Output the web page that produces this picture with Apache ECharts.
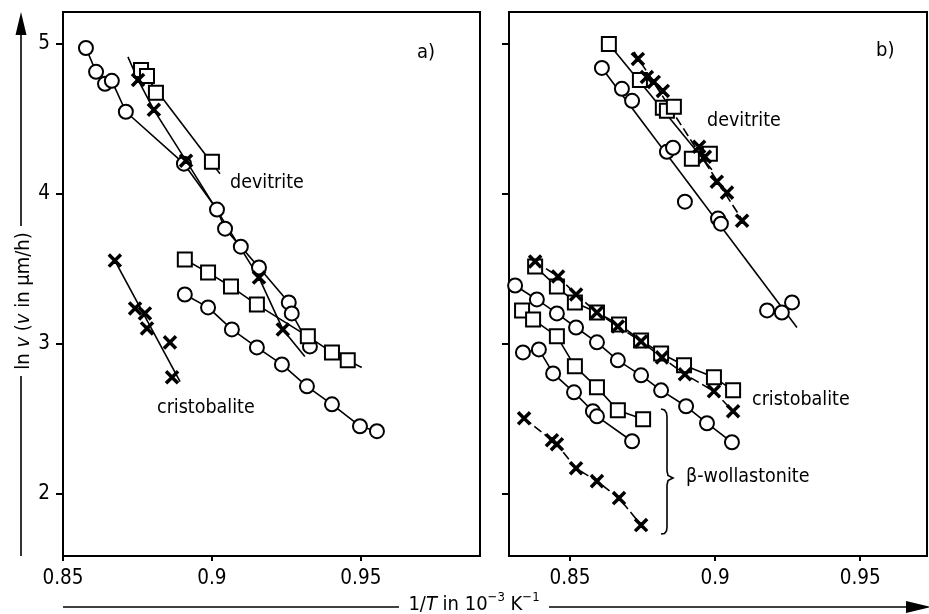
<!DOCTYPE html>
<html>
<head>
<meta charset="utf-8">
<script src="https://cdn.jsdelivr.net/npm/echarts@6/dist/echarts.min.js"></script>
<style>
  html, body { margin: 0; padding: 0; background: #fff; }
  #chart { width: 929px; height: 614px; }
</style>
</head>
<body>
<div id="chart"></div>
<script>
// Growth rate ln v against reciprocal temperature 1/T (10^-3 K^-1)

// ---------- panel a) ----------
const aDevitriteCircles = [[0.8577,4.973],[0.8611,4.814],[0.8641,4.734],[0.8664,4.754],[0.8711,4.548],[0.8906,4.202],[0.9017,3.896],[0.9044,3.769],[0.9097,3.649],[0.9158,3.510],[0.9258,3.277],[0.9268,3.204],[0.9329,2.984]];
const aDevitriteCrosses = [[0.8752,4.760],[0.8805,4.561],[0.8913,4.222],[0.9158,3.443],[0.9238,3.097]];
const aDevitriteCrossesLine = [[0.8718,4.914],[0.8752,4.760],[0.8805,4.561],[0.8913,4.222],[0.9158,3.443],[0.9238,3.097],[0.9312,2.917]];
const aDevitriteSquares = [[0.8762,4.827],[0.8782,4.787],[0.8812,4.674],[0.9000,4.215]];
const aDevitriteSquaresLine = [[0.8762,4.827],[0.9027,4.135]];
const aLowerSquares = [[0.8909,3.563],[0.8987,3.476],[0.9064,3.383],[0.9151,3.263],[0.9322,3.051],[0.9403,2.944],[0.9456,2.891]];
const aLowerSquaresLine = [[0.8909,3.563],[0.8987,3.476],[0.9064,3.383],[0.9151,3.263],[0.9322,3.051],[0.9403,2.944],[0.9456,2.891],[0.9503,2.844]];
const aLowerCircles = [[0.8909,3.330],[0.8987,3.244],[0.9067,3.097],[0.9151,2.977],[0.9235,2.864],[0.9319,2.718],[0.9403,2.598],[0.9497,2.452],[0.9554,2.419]];
const aCristobaliteCrosses = [[0.8674,3.556],[0.8742,3.237],[0.8775,3.204],[0.8782,3.104],[0.8859,3.011],[0.8866,2.778]];
const aCristobaliteLine = [[0.8674,3.556],[0.8893,2.750]];

// ---------- panel b) ----------
const bDevitriteCircles = [[0.8610,4.840],[0.8679,4.701],[0.8714,4.621],[0.8834,4.281],[0.8855,4.308],[0.8896,3.949],[0.9010,3.836],[0.9020,3.802],[0.9179,3.224],[0.9230,3.210],[0.9265,3.277]];
const bDevitriteCirclesLine = [[0.8610,4.840],[0.9282,3.110]];
const bDevitriteSquares = [[0.8634,5.000],[0.8741,4.760],[0.8820,4.574],[0.8834,4.554],[0.8858,4.581],[0.8920,4.235],[0.8982,4.268]];
const bDevitriteSquaresLine = [[0.8634,5.000],[0.8989,4.162]];
const bDevitriteCrosses = [[0.8734,4.900],[0.8765,4.780],[0.8789,4.747],[0.8820,4.687],[0.8945,4.315],[0.8965,4.248],[0.9006,4.082],[0.9041,4.009],[0.9093,3.822]];
const bDevitriteCrossesLine = [[0.8721,4.947],[0.9106,3.789]];
const bCristobaliteSquares = [[0.8380,3.516],[0.8455,3.383],[0.8517,3.277],[0.8593,3.210],[0.8669,3.130],[0.8745,3.024],[0.8814,2.937],[0.8893,2.858],[0.8996,2.778],[0.9062,2.691]];
const bCristobaliteCrosses = [[0.8380,3.550],[0.8459,3.450],[0.8521,3.330],[0.8593,3.210],[0.8665,3.117],[0.8745,3.017],[0.8817,2.911],[0.8896,2.798],[0.8996,2.685],[0.9062,2.552]];
const bCristobaliteCircles = [[0.8311,3.390],[0.8386,3.297],[0.8455,3.204],[0.8521,3.110],[0.8593,3.011],[0.8665,2.891],[0.8745,2.791],[0.8814,2.691],[0.8900,2.585],[0.8972,2.472],[0.9058,2.345]];
const bWollastoniteSquares = [[0.8335,3.224],[0.8373,3.164],[0.8455,3.051],[0.8517,2.851],[0.8593,2.711],[0.8665,2.558],[0.8752,2.498]];
const bWollastoniteCircles = [[0.8338,2.944],[0.8393,2.964],[0.8442,2.804],[0.8514,2.678],[0.8579,2.552],[0.8593,2.518],[0.8714,2.352]];
const bWollastoniteCrosses = [[0.8342,2.505],[0.8438,2.359],[0.8455,2.332],[0.8521,2.172],[0.8593,2.086],[0.8669,1.973],[0.8745,1.793]];

// axis settings
const xTicks = [0.85, 0.9, 0.95];
const yTicks = [2, 3, 4, 5];
const yRange = [1.587, 5.213];
const xRangeA = [0.85, 0.99];
const xRangeB = [0.829, 0.973];

const FONT = "'DejaVu Sans Condensed','Liberation Sans Narrow','DejaVu Sans',sans-serif";
const CROSS = 'path://M0,1L1,0L5,4L9,0L10,1L6,5L10,9L9,10L5,6L1,10L0,9L4,5Z';
const MARK = {
  circle: { symbol: 'emptyCircle', symbolSize: 14 },
  square: { symbol: 'emptyRect', symbolSize: 14 },
  cross: { symbol: CROSS, symbolSize: 12 }
};

// a plain guide line (no markers)
function guide(grid, pts, dashed) {
  return {
    type: 'line', xAxisIndex: grid, yAxisIndex: grid, data: pts,
    symbol: 'none', silent: true, z: 2, animation: false,
    lineStyle: { color: '#000', width: 1.6, type: dashed ? [9, 4] : 'solid' }
  };
}
// markers, optionally chained by a line through them
function marks(grid, pts, kind, chain, dashed) {
  const m = MARK[kind];
  return {
    type: 'line', xAxisIndex: grid, yAxisIndex: grid, data: pts,
    symbol: m.symbol, symbolSize: m.symbolSize, showAllSymbol: true,
    silent: true, z: 3, animation: false,
    itemStyle: { color: '#000', borderColor: '#000', borderWidth: 1.8 },
    lineStyle: chain ? { color: '#000', width: 1.6, type: dashed ? [9, 4] : 'solid' } : { width: 0, opacity: 0 }
  };
}

const series = [
  guide(0, aDevitriteCrossesLine, false),
  guide(0, aDevitriteSquaresLine, false),
  guide(0, aLowerSquaresLine, false),
  guide(0, aCristobaliteLine, false),
  guide(1, bDevitriteCirclesLine, false),
  guide(1, bDevitriteSquaresLine, false),
  guide(1, bDevitriteCrossesLine, true),

  marks(0, aDevitriteCircles, 'circle', true),
  marks(0, aDevitriteSquares, 'square', false),
  marks(0, aDevitriteCrosses, 'cross', false),
  marks(0, aLowerSquares, 'square', false),
  marks(0, aLowerCircles, 'circle', true),
  marks(0, aCristobaliteCrosses, 'cross', false),

  marks(1, bDevitriteCircles, 'circle', false),
  marks(1, bDevitriteSquares, 'square', false),
  marks(1, bDevitriteCrosses, 'cross', false),
  marks(1, bCristobaliteSquares, 'square', true),
  marks(1, bCristobaliteCrosses, 'cross', true, true),
  marks(1, bCristobaliteCircles, 'circle', true),
  marks(1, bWollastoniteSquares, 'square', true),
  marks(1, bWollastoniteCircles, 'circle', true),
  marks(1, bWollastoniteCrosses, 'cross', true, true)
];

function xAxis(grid, range) {
  return {
    type: 'value', gridIndex: grid, min: range[0], max: range[1],
    splitLine: { show: false },
    axisLine: { show: true, onZero: false, lineStyle: { color: '#000', width: 2 } },
    axisTick: { show: true, inside: false, length: 5, customValues: xTicks, lineStyle: { color: '#000', width: 2 } },
    axisLabel: { show: true, customValues: xTicks, margin: 12, color: '#000', fontSize: 20.5, fontFamily: FONT }
  };
}
function yAxis(grid, labels) {
  return {
    type: 'value', gridIndex: grid, min: yRange[0], max: yRange[1],
    splitLine: { show: false },
    axisLine: { show: true, onZero: false, lineStyle: { color: '#000', width: 2 } },
    axisTick: { show: true, inside: false, length: 7, customValues: yTicks, lineStyle: { color: '#000', width: 2 } },
    axisLabel: { show: labels, customValues: yTicks, margin: 13, color: '#000', fontSize: 20.5, fontFamily: FONT }
  };
}

function label(x, y, text, size) {
  return {
    type: 'text', x: x, y: y, silent: true, z: 10,
    style: { text: text, fill: '#000', font: (size || 19.5) + 'px ' + FONT, align: 'left', verticalAlign: 'middle' }
  };
}

const TITLE_RICH = {
  n: { fontFamily: FONT, fontSize: 20, fill: '#000', lineHeight: 24, verticalAlign: 'bottom' },
  i: { fontFamily: FONT, fontSize: 20, fontStyle: 'italic', fill: '#000', lineHeight: 24, verticalAlign: 'bottom' },
  s: { fontFamily: FONT, fontSize: 13, fill: '#000', lineHeight: 24, verticalAlign: 'top' }
};

const graphic = [
  label(417, 53, 'a)', 20),
  label(876, 51, 'b)', 20),
  label(230, 183, 'devitrite'),
  label(157, 408, 'cristobalite'),
  label(707, 121, 'devitrite'),
  label(752, 400, 'cristobalite'),
  label(686, 477, 'β-wollastonite'),
  // brace grouping the β-wollastonite sets
  { type: 'polyline', silent: true, z: 10,
    shape: { points: [[661,409],[664.5,410],[666.5,413],[667,417],[667,471],[668,475.5],[673,478],[668,480.5],[667,485],[667,527],[666.5,531],[664.5,533.5],[661,534]] },
    style: { fill: 'none', stroke: '#000', lineWidth: 1.6 } },
  // y-axis title with arrow
  { type: 'line', silent: true, shape: { x1: 21, y1: 32, x2: 21, y2: 226 }, style: { stroke: '#000', lineWidth: 1.6 } },
  { type: 'line', silent: true, shape: { x1: 21, y1: 376, x2: 21, y2: 556 }, style: { stroke: '#000', lineWidth: 1.6 } },
  { type: 'polygon', silent: true, shape: { points: [[21, 12], [15.5, 35], [26.5, 35]] }, style: { fill: '#000' } },
  { type: 'text', silent: true, x: 22, y: 301, rotation: Math.PI / 2,
    style: { text: '{n|ln }{i|v}{n| (}{i|v}{n| in µm/h)}', align: 'center', verticalAlign: 'middle', rich: TITLE_RICH } },
  // x-axis title with arrow
  { type: 'line', silent: true, shape: { x1: 63, y1: 607, x2: 399, y2: 607 }, style: { stroke: '#000', lineWidth: 1.6 } },
  { type: 'line', silent: true, shape: { x1: 549, y1: 607, x2: 910, y2: 607 }, style: { stroke: '#000', lineWidth: 1.6 } },
  { type: 'polygon', silent: true, shape: { points: [[931, 607], [906, 601], [906, 613]] }, style: { fill: '#000' } },
  { type: 'text', silent: true, x: 474, y: 603,
    style: { text: '{n|1/}{i|T}{n| in 10}{s|−3}{n| K}{s|−1}', align: 'center', verticalAlign: 'middle', rich: TITLE_RICH } }
];

const chart = echarts.init(document.getElementById('chart'), null, { renderer: 'canvas' });
chart.setOption({
  backgroundColor: '#fff',
  animation: false,
  grid: [
    { left: 63, top: 12, width: 417, height: 544, show: true, borderColor: '#000', borderWidth: 2, containLabel: false, outerBoundsMode: 'none' },
    { left: 509, top: 12, width: 418, height: 544, show: true, borderColor: '#000', borderWidth: 2, containLabel: false, outerBoundsMode: 'none' }
  ],
  xAxis: [xAxis(0, xRangeA), xAxis(1, xRangeB)],
  yAxis: [yAxis(0, true), yAxis(1, false)],
  series: series,
  graphic: graphic
});
</script>
</body>
</html>
